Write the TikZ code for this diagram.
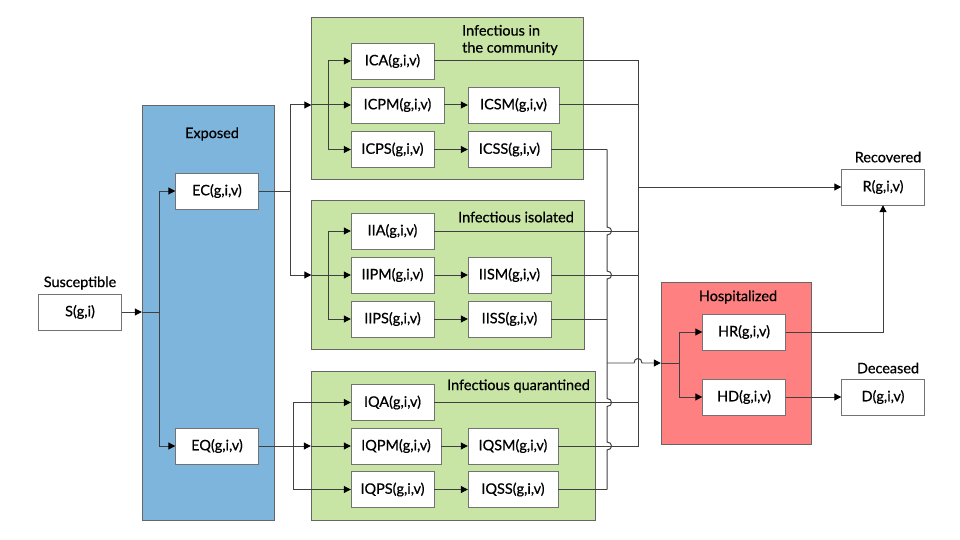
\documentclass[tikz,border=0pt]{standalone}
\usepackage{fontspec}
\setmainfont{Lato}
\newfontfamily\medfont{Lato}[FakeBold=0.6]
\usetikzlibrary{arrows.meta,calc}

\begin{document}
\begin{tikzpicture}[x=1bp,y=-1bp,
    box/.style={draw=black!55,fill=white,minimum width=83bp,minimum height=36bp,
        inner sep=0pt,font=\medfont\fontsize{14.5}{17}\selectfont},
    group/.style={draw=black!60,minimum height=149bp,inner sep=0pt},
    title/.style={inner sep=0pt,font=\medfont\fontsize{14.5}{17}\selectfont},
    link/.style={black!75,line width=1pt},
    arr/.style={link,-{Triangle[length=7bp,width=7bp,color=black]}}]
    \definecolor{exposedblue}{RGB}{126,181,221}
    \definecolor{infectgreen}{RGB}{200,229,166}
    \definecolor{hospred}{RGB}{255,128,128}

    \useasboundingbox (0,0) rectangle (960,540);

    % compartments
    \node[group,fill=exposedblue,minimum width=132bp,minimum height=415bp] (exp) at (208,312.5) {};
    \node[group,fill=infectgreen,minimum width=272bp,minimum height=162bp] (comm) at (447.5,98) {};
    \node[group,fill=infectgreen,minimum width=273bp] (isol) at (448,274.5) {};
    \node[group,fill=infectgreen,minimum width=284bp] (quar) at (453,446) {};
    \node[group,fill=hospred,minimum width=150bp,minimum height=162bp] (hosp) at (736,363) {};

    % titles
    \node[title] (t-sus) at (80,283) {Susceptible};
    \node[title] (t-exp) at (212,134) {Exposed};
    \node[title,align=left,anchor=west] (t-comm) at (462,40) {Infectious in\\the community};
    \node[title,anchor=east] (t-isol) at (574,217) {Infectious isolated};
    \node[title,anchor=east] (t-quar) at (590,386) {Infectious quarantined};
    \node[title] (t-hosp) at (738,297) {Hospitalized};
    \node[title] (t-rec) at (888,157) {Recovered};
    \node[title] (t-dec) at (888,368) {Deceased};

    % states
    \node[box] (S) at (80,312) {S(g,i)};
    \node[box] (EC) at (217,191) {EC(g,i,v)};
    \node[box] (EQ) at (217,446) {EQ(g,i,v)};

    \node[box] (ICA) at (392.5,61) {ICA(g,i,v)};
    \node[box,minimum width=93bp] (ICPM) at (397.5,105) {ICPM(g,i,v)};
    \node[box,minimum width=91bp] (ICSM) at (513.5,105) {ICSM(g,i,v)};
    \node[box] (ICPS) at (392.5,149.5) {ICPS(g,i,v)};
    \node[box] (ICSS) at (509.5,149.5) {ICSS(g,i,v)};

    \node[box] (IIA) at (392.5,231) {IIA(g,i,v)};
    \node[box] (IIPM) at (392.5,275) {IIPM(g,i,v)};
    \node[box] (IISM) at (509.5,275) {IISM(g,i,v)};
    \node[box] (IIPS) at (392.5,319) {IIPS(g,i,v)};
    \node[box] (IISS) at (509.5,319) {IISS(g,i,v)};

    \node[box] (IQA) at (392.5,402.5) {IQA(g,i,v)};
    \node[box,minimum width=90bp] (IQPM) at (396,446) {IQPM(g,i,v)};
    \node[box,minimum width=90bp] (IQSM) at (513,446) {IQSM(g,i,v)};
    \node[box] (IQPS) at (392.5,489.5) {IQPS(g,i,v)};
    \node[box,minimum width=90bp] (IQSS) at (513,489.5) {IQSS(g,i,v)};

    \node[box] (HR) at (744,332) {HR(g,i,v)};
    \node[box] (HD) at (744,397) {HD(g,i,v)};
    \node[box] (R) at (883,187) {R(g,i,v)};
    \node[box] (D) at (883,397) {D(g,i,v)};

    % junctions
    \coordinate (jE) at (159,312);
    \coordinate (jC) at (290,191);
    \coordinate (jCa) at (328,105);
    \coordinate (jIa) at (328,275);
    \coordinate (jQ) at (293,446);
    \coordinate (jR) at (638,187);
    \coordinate (jH) at (607,363);
    \coordinate (jHa) at (679,363);

    % susceptible -> exposed
    \draw[arr] (S.east) -- (S.east -| exp.west);
    \draw[link] (S.east -| exp.west) -- (jE);
    \foreach \n in {EC,EQ}
        \draw[arr] (jE) |- (\n.west);

    % exposed -> infectious
    \draw[link] (EC.east) -- (jC);
    \draw[arr] (jC) |- (comm.west |- ICPM);
    \draw[arr] (jC) |- (isol.west |- IIPM);
    \draw[link] (comm.west |- ICPM) -- (jCa);
    \draw[link] (isol.west |- IIPM) -- (jIa);
    \foreach \n in {ICA,ICPM,ICPS}
        \draw[arr] (jCa) |- (\n.west);
    \foreach \n in {IIA,IIPM,IIPS}
        \draw[arr] (jIa) |- (\n.west);
    \draw[arr] (EQ.east) -- (quar.west |- EQ);
    \draw[arr] (quar.west |- EQ) -- (IQPM.west);
    \foreach \n in {IQA,IQPS}
        \draw[arr] (jQ) |- (\n.west);

    % pre-symptomatic -> symptomatic
    \foreach \a/\b in {ICPM/ICSM,ICPS/ICSS,IIPM/IISM,IIPS/IISS,IQPM/IQSM,IQPS/IQSS}
        \draw[arr] (\a.east) -- (\b.west);

    % recovery
    \foreach \n in {ICA,ICSM,IIA,IISM,IQA,IQSM}
        \draw[link] (\n.east) -| (jR);
    \draw[arr] (jR) -- (R.west);

    % severe cases -> hospital, hopping over crossings
    \foreach \n in {ICSS,IISS,IQSS}
        \draw[link] (\n.east) -- (\n.east -| jH);
    \draw[link] (ICSS.east -| jH)
        \foreach \n in {IIA,IISM,IQA,IQSM} {
            -- ($(\n.east -| jH)+(0,-4)$)
            .. controls +(6,0) and +(6,0) .. ($(\n.east -| jH)+(0,4)$)
        }
        -- (IQSS.east -| jH);
    \draw[arr] (jH) -- ($(jR |- jH)+(-4,0)$)
        .. controls +(0,-6) and +(0,-6) .. ($(jR |- jH)+(4,0)$)
        -- (hosp.west |- jH);
    \draw[link] (hosp.west |- jH) -- (jHa);
    \foreach \n in {HR,HD}
        \draw[arr] (jHa) |- (\n.west);

    % hospital outcomes
    \draw[arr] (HR.east) -| (R.south);
    \draw[arr] (HD.east) -- (D.west);
\end{tikzpicture}
\end{document}
